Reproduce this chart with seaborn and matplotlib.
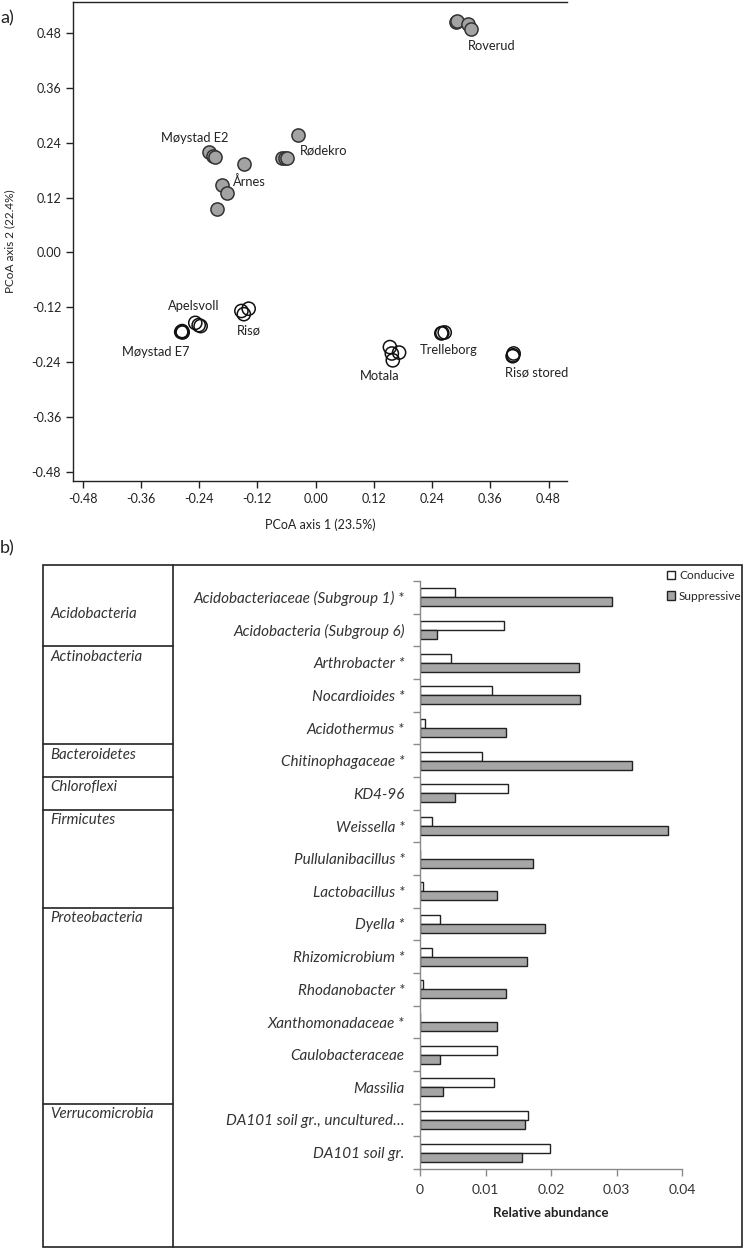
import numpy as np
import pandas as pd
import seaborn as sns
import matplotlib.pyplot as plt
from matplotlib import transforms
from matplotlib.lines import Line2D
from matplotlib.patches import Rectangle, Patch

sns.set_theme(style="ticks")
plt.rcParams['font.family'] = ['Lato', 'DejaVu Sans']
plt.rcParams['axes.unicode_minus'] = False

# ---------------- a) PCoA data ----------------
site = ['Roverud'] * 4 + ['Møystad E2'] * 3 + ['Årnes'] * 4 + ['Rødekro'] * 4 \
    + ['Apelsvoll'] * 3 + ['Møystad E7'] * 3 + ['Risø'] * 3 + ['Motala'] * 4 \
    + ['Trelleborg'] * 3 + ['Risø stored'] * 3
soil = ['Suppressive'] * 15 + ['Conducive'] * 19
pcoa1 = [0.289, 0.291, 0.315, 0.320,
         -0.219, -0.212, -0.207,
         -0.148, -0.193, -0.183, -0.204,
         -0.0695, -0.064, -0.060, -0.037,
         -0.248, -0.241, -0.237,
         -0.275, -0.274, -0.277,
         -0.153, -0.138, -0.148,
         0.153, 0.172, 0.159, 0.157,
         0.261, 0.266, 0.259,
         0.407, 0.408, 0.406]
pcoa2 = [0.505, 0.506, 0.500, 0.488,
         0.220, 0.211, 0.208,
         0.193, 0.147, 0.131, 0.095,
         0.206, 0.206, 0.206, 0.258,
         -0.154, -0.159, -0.161,
         -0.172, -0.175, -0.174,
         -0.128, -0.123, -0.135,
         -0.207, -0.219, -0.236, -0.221,
         -0.176, -0.175, -0.177,
         -0.225, -0.221, -0.227]

# where each site name is written (left edge, centre)
label_pos = {
    'Roverud': (0.313, 0.451),
    'Møystad E2': (-0.318, 0.250),
    'Rødekro': (-0.033, 0.224),
    'Årnes': (-0.171, 0.156),
    'Apelsvoll': (-0.305, -0.118),
    'Risø': (-0.163, -0.170),
    'Møystad E7': (-0.400, -0.218),
    'Motala': (0.091, -0.271),
    'Trelleborg': (0.214, -0.214),
    'Risø stored': (0.390, -0.262),
}

# ---------------- b) relative abundance ----------------
taxa = ['Acidobacteriaceae (Subgroup 1) *', 'Acidobacteria (Subgroup 6)',
        'Arthrobacter *', 'Nocardioides *', 'Acidothermus *',
        'Chitinophagaceae *', 'KD4-96', 'Weissella *', 'Pullulanibacillus *',
        'Lactobacillus *', 'Dyella *', 'Rhizomicrobium *', 'Rhodanobacter *',
        'Xanthomonadaceae *', 'Caulobacteraceae', 'Massilia',
        'DA101 soil gr., uncultured…', 'DA101 soil gr.']
phylum = ['Acidobacteria'] * 2 + ['Actinobacteria'] * 3 + ['Bacteroidetes'] \
    + ['Chloroflexi'] + ['Firmicutes'] * 3 + ['Proteobacteria'] * 6 \
    + ['Verrucomicrobia'] * 2
conducive = [0.0054, 0.0129, 0.0048, 0.0110, 0.0007, 0.0094, 0.0135, 0.0018,
             0.0, 0.0005, 0.0031, 0.0019, 0.0004, 0.0, 0.0118, 0.0113,
             0.0165, 0.0199]
suppressive = [0.0293, 0.0026, 0.0242, 0.0244, 0.0131, 0.0323, 0.0053, 0.0378,
               0.0173, 0.0118, 0.0191, 0.0163, 0.0132, 0.0118, 0.0030, 0.0035,
               0.0161, 0.0156]

W, H = 745, 1250
fig = plt.figure(figsize=(W / 100, H / 100), dpi=100)


def fx(px):
    return px / W


def fy(py):
    return 1 - py / H


dark = '#222222'

# ---------------- panel a ----------------
ax1 = fig.add_axes([fx(73), fy(481), fx(567) - fx(73), fy(2) - fy(481)])
pts = pd.DataFrame({'site': site, 'soil': soil, 'x': pcoa1, 'y': pcoa2})
sup = pts[pts.soil == 'Suppressive']
con = pts[pts.soil == 'Conducive']
sns.scatterplot(data=sup, x='x', y='y', ax=ax1, s=90, color='#a3a3a3',
                edgecolor='#333333', linewidth=1.1, zorder=3)
sns.scatterplot(data=con, x='x', y='y', ax=ax1, s=90, facecolor='none',
                edgecolor='#111111', linewidth=1.1, zorder=3)
for name, (lx, ly) in label_pos.items():
    ax1.text(lx, ly, name, ha='left', va='center', fontsize=9.3, color=dark)

ticks = np.round(np.arange(-0.48, 0.49, 0.12), 2)
ax1.set_xlim(-0.50, 0.518)
ax1.set_ylim(-0.50, 0.548)
ax1.set_xticks(ticks)
ax1.set_yticks(ticks)
ax1.set_xticklabels([f'{t:.2f}' for t in ticks])
ax1.set_yticklabels([f'{t:.2f}' for t in ticks])
ax1.tick_params(labelsize=9, colors=dark, length=5, width=1, direction='out')
ax1.set_xlabel('PCoA axis 1 (23.5%)', fontsize=9, color=dark, labelpad=10)
ax1.set_ylabel('PCoA axis 2 (22.4%)', fontsize=8.5, color=dark, labelpad=12)
for sp in ['left', 'bottom', 'top']:
    ax1.spines[sp].set_color(dark)
    ax1.spines[sp].set_linewidth(1)
ax1.spines['right'].set_visible(False)

# ---------------- panel b ----------------
ax2 = fig.add_axes([fx(420), fy(1169), fx(682) - fx(420), fy(581) - fy(1169)])
bars = pd.DataFrame({
    'taxon': taxa * 2,
    'soil': ['Conducive'] * len(taxa) + ['Suppressive'] * len(taxa),
    'abundance': conducive + suppressive,
})
sns.barplot(data=bars, y='taxon', x='abundance', hue='soil', orient='h',
            palette={'Conducive': 'white', 'Suppressive': '#a6a6a6'},
            edgecolor='#222222', linewidth=1, width=0.56, saturation=1,
            legend=False, ax=ax2)
ax2.set_xlim(0, 0.04)
ax2.set_ylim(len(taxa) - 0.5, -0.5)
ax2.set_xticks([0, 0.01, 0.02, 0.03, 0.04])
ax2.set_xticklabels(['0', '0.01', '0.02', '0.03', '0.04'])
ax2.set_yticks(range(len(taxa)))
ax2.set_yticklabels(taxa, fontstyle='italic')
ax2.set_yticks(np.arange(-0.5, len(taxa), 1), minor=True)
ax2.tick_params(axis='y', which='major', length=0, pad=11, labelsize=11,
                labelcolor='#333333')
ax2.tick_params(axis='y', which='minor', length=5, width=1, color='#8a8a8a')
ax2.tick_params(axis='x', length=5, width=1, color='#8a8a8a', labelsize=10,
                labelcolor='#333333', pad=6)
ax2.set_xlabel('Relative abundance', fontsize=9.5, fontweight='bold',
               color=dark, labelpad=8)
ax2.set_ylabel('')
for sp in ['top', 'right']:
    ax2.spines[sp].set_visible(False)
for sp in ['left', 'bottom']:
    ax2.spines[sp].set_color('#8a8a8a')
    ax2.spines[sp].set_linewidth(1)

handles = [Patch(facecolor='white', edgecolor='#222222', label='Conducive'),
           Patch(facecolor='#a6a6a6', edgecolor='#222222', label='Suppressive')]
fig.legend(handles=handles, loc='upper left',
           bbox_to_anchor=(fx(667), fy(570)), frameon=False, fontsize=8.6,
           handlelength=0.7, handleheight=0.7, handletextpad=0.3,
           labelspacing=0.8, borderaxespad=0, borderpad=0)

# phylum table on the left
fig.add_artist(Rectangle((fx(43), fy(1247)), fx(742) - fx(43),
                         fy(565) - fy(1247), transform=fig.transFigure,
                         fill=False, edgecolor=dark, linewidth=1.2))
fig.add_artist(Line2D([fx(173), fx(173)], [fy(1247), fy(565)],
                      transform=fig.transFigure, color=dark, linewidth=1.2))
mix = transforms.blended_transform_factory(fig.transFigure, ax2.transData)
groups = list(dict.fromkeys(phylum))
start = 0
for i, g in enumerate(groups):
    n = phylum.count(g)
    if i > 0:
        fig.add_artist(Line2D([fx(43), fx(173)], [start - 0.5, start - 0.5],
                              transform=mix, color=dark, linewidth=1.2))
        ty = start - 0.5 + 0.32
    else:
        ty = start + 0.5
    fig.text(fx(50), ty, g, transform=mix, ha='left', va='center',
             fontsize=10.8, fontstyle='italic', color='#333333')
    start += n

fig.text(0.0, fy(18), 'a)', fontsize=13, color=dark, va='center')
fig.text(0.0, fy(548), 'b)', fontsize=13, color=dark, va='center')

fig.savefig('out.png', dpi=100)
